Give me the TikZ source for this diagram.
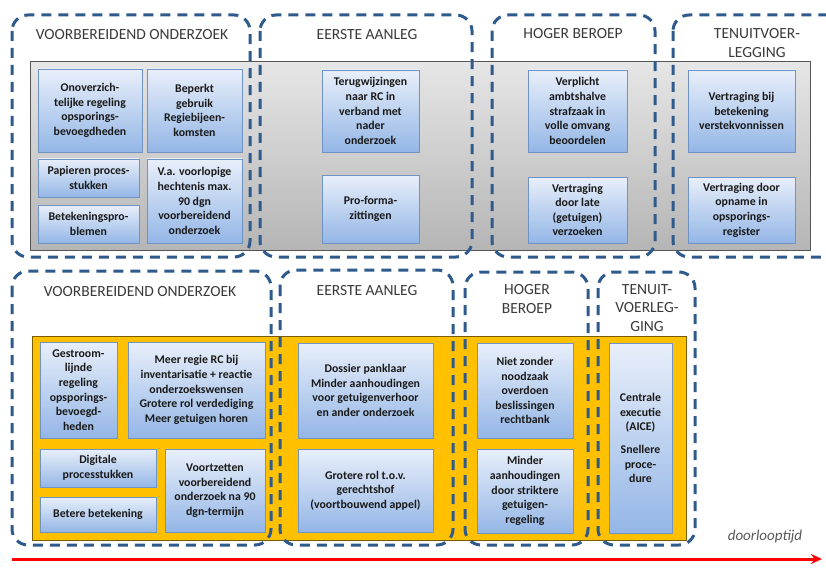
\documentclass[tikz,border=0pt]{standalone}
\usepackage{fontspec}
\setmainfont{Carlito}
\usetikzlibrary{arrows.meta}
\definecolor{bxtop}{HTML}{E8EFFA}
\definecolor{bxbot}{HTML}{94B6E6}
\definecolor{bxline}{HTML}{6F94C4}
\definecolor{dashc}{HTML}{2F5A8C}
\definecolor{orng}{HTML}{FFC000}
\definecolor{orngline}{HTML}{7A5C00}
\definecolor{gtop}{HTML}{E6E6E6}
\definecolor{gbot}{HTML}{B5B5B5}
\definecolor{gline}{HTML}{555555}
\definecolor{titc}{HTML}{3A3A3A}
\tikzset{
  bx/.style={draw=bxline, line width=0.8pt, top color=bxtop, bottom color=bxbot,
    align=center, inner sep=1pt, font=\bfseries\fontsize{11.8}{14.6}\selectfont, text=black!90},
  phase/.style={draw=dashc, line width=3pt, dash pattern=on 10pt off 7pt, rounded corners=16pt},
  ttl/.style={align=center, font=\fontsize{15.5}{18.5}\selectfont, text=titc},
}
\begin{document}
\begin{tikzpicture}[x=1pt,y=-1pt]
\clip (0,0) rectangle (826,572);
\fill[white] (0,0) rectangle (826,572);
% top row background
\draw[gline, line width=1pt, top color=gtop, bottom color=gbot] (30,62) rectangle (810,250);
\node[bx, minimum width=104, minimum height=83] (t1) at (90,110.5) {Onoverzich-\\telijke regeling\\opsporings-\\bevoegdheden};
\node[bx, minimum width=95, minimum height=83] (t2) at (194.5,110.5) {Beperkt\\gebruik\\Regiebijeen-\\komsten};
\node[bx, minimum width=101, minimum height=38] (t3) at (88.5,178) {Papieren proces-\\stukken};
\node[bx, minimum width=101, minimum height=38] (t4) at (88.5,224) {Betekeningspro-\\blemen};
\node[bx, minimum width=95, minimum height=84] (t5) at (194.5,201) {V.a. voorlopige\\hechtenis max.\\90 dgn\\voorbereidend\\onderzoek};
\node[bx, minimum width=97, minimum height=82] (t6) at (370.5,111) {Terugwijzingen\\naar RC in\\verband met\\nader\\onderzoek};
\node[bx, minimum width=97, minimum height=68] (t7) at (370.5,209) {Pro-forma-\\zittingen};
\node[bx, minimum width=99, minimum height=82] (t8) at (577.5,111) {Verplicht\\ambtshalve\\strafzaak in\\volle omvang\\beoordelen};
\node[bx, minimum width=99, minimum height=66] (t9) at (577.5,210) {Vertraging\\door late\\(getuigen)\\verzoeken};
\node[bx, minimum width=107, minimum height=82] (t10) at (741.5,111) {Vertraging bij\\betekening\\verstekvonnissen};
\node[bx, minimum width=107, minimum height=66] (t11) at (741.5,210) {Vertraging door\\opname in\\opsporings-\\register};
% top phases
\draw[phase] (12,15) rectangle (250,257);
\draw[phase] (260,15) rectangle (472,257);
\draw[phase] (492,15) rectangle (655,257);
\draw[phase] (673,15) rectangle (850,257);
\node[ttl] (h1) at (132,35) {VOORBEREIDEND ONDERZOEK};
\node[ttl] (h2) at (367,35) {EERSTE AANLEG};
\node[ttl] (h3) at (573,34) {HOGER BEROEP};
\node[ttl] (h4) at (757,43) {TENUITVOER-\\LEGGING};
% bottom row background
\draw[orngline, line width=1pt, fill=orng] (32,336) rectangle (686,540);
\node[bx, minimum width=77, minimum height=96] (b1) at (78.5,390) {Gestroom-\\lijnde\\regeling\\opsporings-\\bevoegd-\\heden};
\node[bx, minimum width=137, minimum height=96] (b2) at (196.5,390) {Meer regie RC bij\\inventarisatie + reactie\\onderzoekswensen\\Grotere rol verdediging\\Meer getuigen horen};
\node[bx, minimum width=116, minimum height=38] (b3) at (98,468) {Digitale\\processtukken};
\node[bx, minimum width=116, minimum height=35] (b4) at (98,514.5) {Betere betekening};
\node[bx, minimum width=100, minimum height=83] (b5) at (215,490.5) {Voortzetten\\voorbereidend\\onderzoek na 90\\dgn-termijn};
\node[bx, minimum width=135, minimum height=95] (b6) at (365.5,390.5) {Dossier panklaar\\Minder aanhoudingen\\voor getuigenverhoor\\en ander onderzoek};
\node[bx, minimum width=135, minimum height=83] (b7) at (365.5,490.5) {Grotere rol t.o.v.\\gerechtshof\\(voortbouwend appel)};
\node[bx, minimum width=96, minimum height=95] (b8) at (525,390.5) {Niet zonder\\noodzaak\\overdoen\\beslissingen\\rechtbank};
\node[bx, minimum width=96, minimum height=84] (b9) at (525,491) {Minder\\aanhoudingen\\door striktere\\getuigen-\\regeling};
\node[bx, minimum width=63, minimum height=190] (b10) at (640.5,438) {Centrale\\executie\\(AICE)\\[8pt]Snellere\\proce-\\dure};
% bottom phases
\draw[phase] (12,271) rectangle (271,545);
\draw[phase] (280,270) rectangle (453,545);
\draw[phase] (465,272) rectangle (588,545);
\draw[phase] (598,272) rectangle (695,545);
\node[ttl] (g1) at (140,292) {VOORBEREIDEND ONDERZOEK};
\node[ttl] (g2) at (367,291) {EERSTE AANLEG};
\node[ttl] (g3) at (527,299) {HOGER\\BEROEP};
\node[ttl] (g4) at (647,308) {TENUIT-\\VOERLEG-\\GING};
% time arrow
\node[font=\itshape\fontsize{15}{18}\selectfont, text=black!65] (dt) at (765,537) {doorlooptijd};
\coordinate (a0) at (12,559);
\coordinate (a1) at (822,559);
\draw[red, line width=3pt, -{Stealth[length=11pt,width=10pt]}] (a0) -- (a1);
\end{tikzpicture}
\end{document}
